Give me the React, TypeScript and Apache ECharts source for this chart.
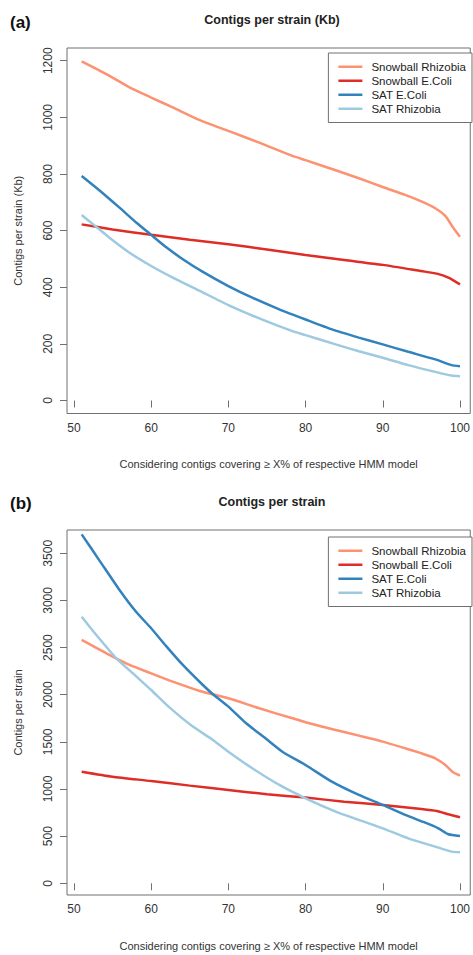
import React, { useEffect, useRef } from "react";
import * as echarts from "echarts";

// ---------- data ----------
const seriesNames = ["Snowball Rhizobia", "Snowball E.Coli", "SAT E.Coli", "SAT Rhizobia"];
const seriesColors = ["#fc9272", "#de2d26", "#3182bd", "#9ecae1"];

const xTicks = [50, 60, 70, 80, 90, 100];
const yTicksA = [0, 200, 400, 600, 800, 1000, 1200];
const yTicksB = [0, 500, 1000, 1500, 2000, 2500, 3000, 3500];

// Panel (a): Contigs per strain (Kb)
const snowRhizA_x = [51, 54.2, 57.2, 60, 62.8, 66.3, 70, 74, 78.3, 80, 83.9, 86.9, 90, 92.9, 95, 96.8, 98.1, 99.1, 100];
const snowRhizA_y = [1198, 1153, 1106, 1070, 1035, 990, 952, 911, 864, 849, 813, 785, 754, 726, 703, 679, 652, 611, 578];
const snowEcoliA_x = [51, 55, 60, 65, 70, 75, 80, 85, 90, 95, 97, 98.5, 100];
const snowEcoliA_y = [622, 604, 585, 568, 552, 533, 514, 496, 479, 457, 448, 434, 410];
const satEcoliA_x = [51, 53.4, 55.9, 58.1, 60, 62, 64.1, 66.7, 70, 73.1, 76.6, 80, 83.4, 86.9, 90, 93.3, 96.8, 98.9, 100];
const satEcoliA_y = [793, 740, 681, 628, 585, 540, 499, 454, 404, 363, 322, 286, 251, 222, 198, 172, 145, 125, 121];
const satRhizA_x = [51, 52.5, 54.6, 57.2, 60, 62.8, 66.3, 70, 74, 78.3, 80, 83.9, 86.9, 90, 93.3, 96.8, 98.9, 100];
const satRhizA_y = [655, 622, 575, 522, 475, 434, 387, 337, 290, 245, 231, 198, 174, 151, 125, 101, 88, 86];

// Panel (b): Contigs per strain
const snowRhizB_x = [51, 54.2, 57.2, 60, 62.8, 66.3, 70, 74, 78.3, 80, 83.9, 86.9, 90, 92.9, 95, 96.8, 98.1, 99.1, 100];
const snowRhizB_y = [2581, 2439, 2316, 2227, 2139, 2040, 1962, 1856, 1750, 1708, 1626, 1566, 1503, 1432, 1379, 1326, 1255, 1177, 1142];
const snowEcoliB_x = [51, 55, 60, 65, 70, 75, 80, 85, 90, 95, 97, 98.5, 100];
const snowEcoliB_y = [1184, 1131, 1085, 1036, 990, 944, 909, 866, 831, 788, 767, 732, 700];
const satEcoliB_x = [51, 53.4, 55.9, 58.1, 60, 62, 64.1, 66.7, 68, 70, 72.3, 74.8, 77, 80, 83.4, 86.9, 90, 92.9, 95.5, 97.2, 98.5, 100];
const satEcoliB_y = [3701, 3412, 3111, 2874, 2705, 2510, 2316, 2103, 2005, 1874, 1697, 1538, 1396, 1255, 1078, 937, 831, 725, 643, 583, 520, 502];
const satRhizB_x = [51, 52.9, 55.5, 58.1, 60, 62.4, 65.4, 68, 70, 73.1, 76.6, 80, 83.9, 86.9, 90, 93.3, 96.8, 98.9, 100];
const satRhizB_y = [2828, 2634, 2386, 2192, 2050, 1863, 1662, 1520, 1396, 1220, 1043, 901, 760, 672, 583, 477, 389, 336, 329];

const titleA = "Contigs per strain (Kb)";
const titleB = "Contigs per strain";
const yNameA = "Contigs per strain (Kb)";
const yNameB = "Contigs per strain";
const xName = "Considering contigs covering \u2265 X% of respective HMM model";

// ---------- helpers ----------
const FONT = "'Liberation Sans', Arial, Helvetica, sans-serif";
const BOX = "#707070";
const zip = (xs: number[], ys: number[]) => xs.map((x, i) => [x, ys[i]]);

function makeXAxis(gridIndex: number) {
  return {
    type: "value",
    gridIndex,
    min: 49.1,
    max: 101.33,
    splitLine: { show: false },
    axisLine: { show: false },
    axisTick: { show: true, customValues: xTicks, length: 7, lineStyle: { color: BOX, width: 1 } },
    axisLabel: {
      customValues: xTicks,
      fontSize: 12,
      color: "#333",
      margin: 8,
      fontFamily: FONT,
      formatter: (v: number) => String(v),
    },
    name: xName,
    nameLocation: "middle",
    nameGap: 45,
    nameTextStyle: { fontSize: 11, color: "#333", fontFamily: FONT },
  };
}

function makeYAxis(gridIndex: number, min: number, max: number, ticks: number[], name: string) {
  return {
    type: "value",
    gridIndex,
    min,
    max,
    splitLine: { show: false },
    axisLine: { show: false },
    axisTick: { show: true, customValues: ticks, length: 7, lineStyle: { color: BOX, width: 1 } },
    axisLabel: {
      customValues: ticks,
      rotate: 90,
      fontSize: 12,
      color: "#333",
      margin: 13,
      fontFamily: FONT,
      formatter: (v: number) => String(v),
    },
    name,
    nameLocation: "middle",
    nameGap: 44,
    nameTextStyle: { fontSize: 11, color: "#333", fontFamily: FONT },
  };
}

function makeLegend(top: number) {
  return {
    orient: "vertical",
    right: 1,
    top,
    icon: "rect",
    itemWidth: 24,
    itemHeight: 2.5,
    itemGap: 0.5,
    padding: [7, 6, 7, 10],
    borderColor: BOX,
    borderWidth: 1,
    backgroundColor: "#fff",
    data: seriesNames,
    selectedMode: false,
    textStyle: { fontSize: 11.5, lineHeight: 13.5, color: "#222", fontFamily: FONT, padding: [0, 0, 0, 4] },
  };
}

function line(name: string, color: string, xi: number, data: number[][]) {
  return {
    type: "line",
    name,
    xAxisIndex: xi,
    yAxisIndex: xi,
    data,
    symbol: "none",
    smooth: 0.2,
    lineStyle: { color, width: 2.5 },
    itemStyle: { color },
  };
}

export default function App() {
  const ref = useRef<HTMLDivElement>(null);
  useEffect(() => {
    if (!ref.current) return;
    const chart = echarts.init(ref.current, undefined, { renderer: "svg" });
    const option: any = {
      animation: false,
      backgroundColor: "#fff",
      grid: [
        { left: 67, top: 48, width: 405, height: 365.5, show: true, borderColor: BOX, borderWidth: 1 },
        { left: 67, top: 530, width: 405, height: 365, show: true, borderColor: BOX, borderWidth: 1 },
      ],
      xAxis: [makeXAxis(0), makeXAxis(1)],
      yAxis: [
        makeYAxis(0, -46, 1245, yTicksA, yNameA),
        makeYAxis(1, -124, 3747, yTicksB, yNameB),
      ],
      legend: [makeLegend(53), makeLegend(537)],
      graphic: [
        { type: "text", x: 10, y: 22, style: { text: "(a)", fontSize: 17, fontWeight: "bold", fontFamily: FONT, fill: "#111", verticalAlign: "middle" } },
        { type: "text", x: 272, y: 20, style: { text: titleA, fontSize: 12.5, fontWeight: "bold", fontFamily: FONT, fill: "#222", align: "center", verticalAlign: "middle" } },
        { type: "text", x: 10, y: 503, style: { text: "(b)", fontSize: 17, fontWeight: "bold", fontFamily: FONT, fill: "#111", verticalAlign: "middle" } },
        { type: "text", x: 272, y: 502, style: { text: titleB, fontSize: 12.5, fontWeight: "bold", fontFamily: FONT, fill: "#222", align: "center", verticalAlign: "middle" } },
      ],
      series: [
        line(seriesNames[0], seriesColors[0], 0, zip(snowRhizA_x, snowRhizA_y)),
        line(seriesNames[1], seriesColors[1], 0, zip(snowEcoliA_x, snowEcoliA_y)),
        line(seriesNames[2], seriesColors[2], 0, zip(satEcoliA_x, satEcoliA_y)),
        line(seriesNames[3], seriesColors[3], 0, zip(satRhizA_x, satRhizA_y)),
        line(seriesNames[0], seriesColors[0], 1, zip(snowRhizB_x, snowRhizB_y)),
        line(seriesNames[1], seriesColors[1], 1, zip(snowEcoliB_x, snowEcoliB_y)),
        line(seriesNames[2], seriesColors[2], 1, zip(satEcoliB_x, satEcoliB_y)),
        line(seriesNames[3], seriesColors[3], 1, zip(satRhizB_x, satRhizB_y)),
      ],
    };
    chart.setOption(option);
    return () => chart.dispose();
  }, []);
  return (
    <div
      ref={ref}
      style={{ position: "absolute", left: 0, top: 0, width: 473, height: 955, background: "#fff" }}
    />
  );
}
